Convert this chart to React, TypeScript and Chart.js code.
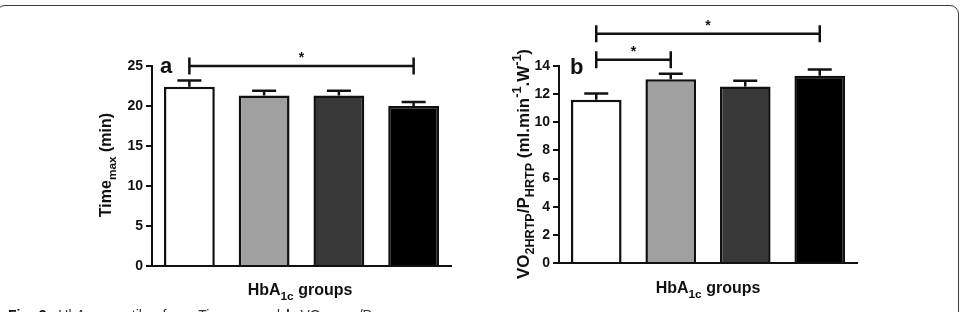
import { useEffect, useRef } from "react";
import { Chart, registerables } from "chart.js";

Chart.register(...registerables);

// HbA1c quartile groups (category axis, labels hidden)
const groups = ["Q1", "Q2", "Q3", "Q4"];
const barColors = ["#ffffff", "#a0a0a0", "#383838", "#000000"];

// Panel a: maximal exercise time (min), mean and SEM
const timeMaxMean = [22.4, 21.3, 21.3, 20.0];
const timeMaxSem = [0.8, 0.6, 0.6, 0.5];
const timeMaxAxis = { max: 25, step: 5 };
const timeMaxSig = [{ from: 0, to: 3, level: 25 }];

// Panel b: VO2 / power at heart-rate turn point, mean and SEM
const vo2Mean = [11.6, 13.05, 12.55, 13.3];
const vo2Sem = [0.45, 0.4, 0.4, 0.45];
const vo2Axis = { max: 14, step: 2 };
const vo2Sig = [
  { from: 0, to: 1, level: 14.45 },
  { from: 0, to: 3, level: 16.3 },
];

const FONT = "'Liberation Sans', Arial, Helvetica, sans-serif";
const INK = "#111111";

type Run = { t: string; k?: "sub" | "sup" };

function runFont(size: number, k?: string) {
  return `bold ${k ? size * 0.74 : size}px ${FONT}`;
}

function richWidth(ctx: CanvasRenderingContext2D, runs: Run[], size: number) {
  let w = 0;
  for (const r of runs) {
    ctx.font = runFont(size, r.k);
    w += ctx.measureText(r.t).width;
  }
  return w;
}

function drawRich(ctx: CanvasRenderingContext2D, runs: Run[], x: number, y: number, size: number) {
  let cx = x;
  ctx.textAlign = "left";
  ctx.textBaseline = "alphabetic";
  for (const r of runs) {
    ctx.font = runFont(size, r.k);
    const dy = r.k === "sub" ? size * 0.3 : r.k === "sup" ? -size * 0.45 : 0;
    ctx.fillText(r.t, cx, y + dy);
    cx += ctx.measureText(r.t).width;
  }
}

type PanelProps = {
  left: number;
  width: number;
  values: number[];
  errors: number[];
  axis: { max: number; step: number };
  sig: { from: number; to: number; level: number }[];
  axisWidth: number;
  pad: { top: number; right: number; bottom: number };
  letter: string;
  letterPos: [number, number];
  yTitle: Run[];
  yTitleSize: number;
  yTitlePos: [number, number];
  xTitle: Run[];
  xTitlePos: [number, number];
};

function Panel(p: PanelProps) {
  const ref = useRef<HTMLCanvasElement | null>(null);

  useEffect(() => {
    if (!ref.current) return;

    const overlay = {
      id: "overlay",
      afterDatasetsDraw(chart: any) {
        const ctx: CanvasRenderingContext2D = chart.ctx;
        const meta = chart.getDatasetMeta(0);
        const y = chart.scales.y;
        ctx.save();
        ctx.strokeStyle = INK;
        ctx.fillStyle = INK;
        ctx.lineWidth = 2.5;

        // SEM error bars (upper half only)
        p.values.forEach((v, i) => {
          const x = meta.data[i].x;
          const y0 = y.getPixelForValue(v);
          const y1 = y.getPixelForValue(v + p.errors[i]);
          ctx.beginPath();
          ctx.moveTo(x, y0);
          ctx.lineTo(x, y1);
          ctx.moveTo(x - 12, y1);
          ctx.lineTo(x + 12, y1);
          ctx.stroke();
        });

        // significance brackets
        p.sig.forEach((s) => {
          const x1 = meta.data[s.from].x;
          const x2 = meta.data[s.to].x;
          const yy = y.getPixelForValue(s.level);
          ctx.beginPath();
          ctx.moveTo(x1, yy);
          ctx.lineTo(x2, yy);
          ctx.moveTo(x1, yy - 8.5);
          ctx.lineTo(x1, yy + 8.5);
          ctx.moveTo(x2, yy - 8.5);
          ctx.lineTo(x2, yy + 8.5);
          ctx.stroke();
          ctx.font = `bold 14px ${FONT}`;
          ctx.textAlign = "center";
          ctx.textBaseline = "alphabetic";
          ctx.fillText("*", (x1 + x2) / 2, yy - 4);
        });

        // panel letter
        ctx.font = `bold 22px ${FONT}`;
        ctx.textAlign = "left";
        ctx.fillText(p.letter, p.letterPos[0], p.letterPos[1]);

        // x axis title
        const xw = richWidth(ctx, p.xTitle, 16);
        drawRich(ctx, p.xTitle, p.xTitlePos[0] - xw / 2, p.xTitlePos[1], 16);

        // rotated y axis title
        const yw = richWidth(ctx, p.yTitle, p.yTitleSize);
        ctx.translate(p.yTitlePos[0], p.yTitlePos[1]);
        ctx.rotate(-Math.PI / 2);
        drawRich(ctx, p.yTitle, -yw / 2, 0, p.yTitleSize);
        ctx.restore();
      },
    };

    const chart = new Chart(ref.current, {
      type: "bar",
      data: {
        labels: groups,
        datasets: [
          {
            data: p.values,
            backgroundColor: barColors,
            borderColor: INK,
            borderWidth: 2.5,
            categoryPercentage: 1,
            barPercentage: 0.68,
          },
        ],
      },
      options: {
        responsive: false,
        animation: false,
        devicePixelRatio: 1,
        layout: { padding: { left: 0, top: p.pad.top, right: p.pad.right, bottom: p.pad.bottom } },
        plugins: { legend: { display: false }, tooltip: { enabled: false } },
        scales: {
          x: {
            ticks: { display: false },
            grid: { display: true, drawOnChartArea: false, drawTicks: false },
            border: { display: true, color: INK, width: 2 },
            afterFit: (s: any) => {
              s.height = 0;
            },
          },
          y: {
            min: 0,
            max: p.axis.max,
            ticks: {
              stepSize: p.axis.step,
              color: INK,
              padding: 3,
              font: { family: FONT, size: 14, weight: "bold" },
            },
            grid: {
              drawOnChartArea: false,
              drawTicks: true,
              tickLength: 6,
              color: INK,
              lineWidth: 2,
            },
            border: { display: true, color: INK, width: 2 },
            afterFit: (s: any) => {
              s.width = p.axisWidth;
            },
          },
        },
      } as any,
      plugins: [overlay],
    });
    return () => chart.destroy();
  }, []);

  return (
    <canvas
      ref={ref}
      width={p.width}
      height={312}
      style={{ position: "absolute", left: p.left, top: 0, width: p.width, height: 312, display: "block" }}
    />
  );
}

const groupsTitle: Run[] = [{ t: "HbA" }, { t: "1c", k: "sub" }, { t: " groups" }];

export default function App() {
  return (
    <div
      style={{
        position: "absolute",
        left: 0,
        top: 0,
        width: 961,
        height: 312,
        overflow: "hidden",
        background: "#ffffff",
        fontFamily: FONT,
      }}
    >
      <div
        style={{
          position: "absolute",
          left: -4,
          top: 5,
          width: 963,
          height: 400,
          boxSizing: "border-box",
          border: "1.5px solid #3a3a3a",
          borderRadius: 9,
        }}
      />
      <Panel
        left={0}
        width={480}
        values={timeMaxMean}
        errors={timeMaxSem}
        axis={timeMaxAxis}
        sig={timeMaxSig}
        axisWidth={152}
        pad={{ top: 66, right: 29, bottom: 46 }}
        letter="a"
        letterPos={[160, 73]}
        yTitle={[{ t: "Time" }, { t: "max", k: "sub" }, { t: " (min)" }]}
        yTitleSize={16}
        yTitlePos={[111, 165]}
        xTitle={groupsTitle}
        xTitlePos={[300, 295]}
      />
      <Panel
        left={480}
        width={481}
        values={vo2Mean}
        errors={vo2Sem}
        axis={vo2Axis}
        sig={vo2Sig}
        axisWidth={79}
        pad={{ top: 66, right: 104, bottom: 49 }}
        letter="b"
        letterPos={[90, 74]}
        yTitle={[
          { t: "VO" },
          { t: "2HRTP", k: "sub" },
          { t: "/P" },
          { t: "HRTP", k: "sub" },
          { t: " (ml.min" },
          { t: "-1", k: "sup" },
          { t: ".W" },
          { t: "-1", k: "sup" },
          { t: ")" },
        ]}
        yTitleSize={17}
        yTitlePos={[49, 164]}
        xTitle={groupsTitle}
        xTitlePos={[228, 293]}
      />
      <div
        style={{
          position: "absolute",
          left: 8,
          top: 306.5,
          fontSize: 14,
          lineHeight: "16px",
          color: "#333",
          whiteSpace: "nowrap",
          wordSpacing: 2,
        }}
      >
        <b style={{ color: "#111" }}>Fig. 3</b>&nbsp; HbA<sub>1c</sub> quartiles for <b>a</b> Time<sub>max</sub> and <b>b</b> VO
        <sub>2HRTP</sub>/P<sub>HRTP</sub>
      </div>
    </div>
  );
}
